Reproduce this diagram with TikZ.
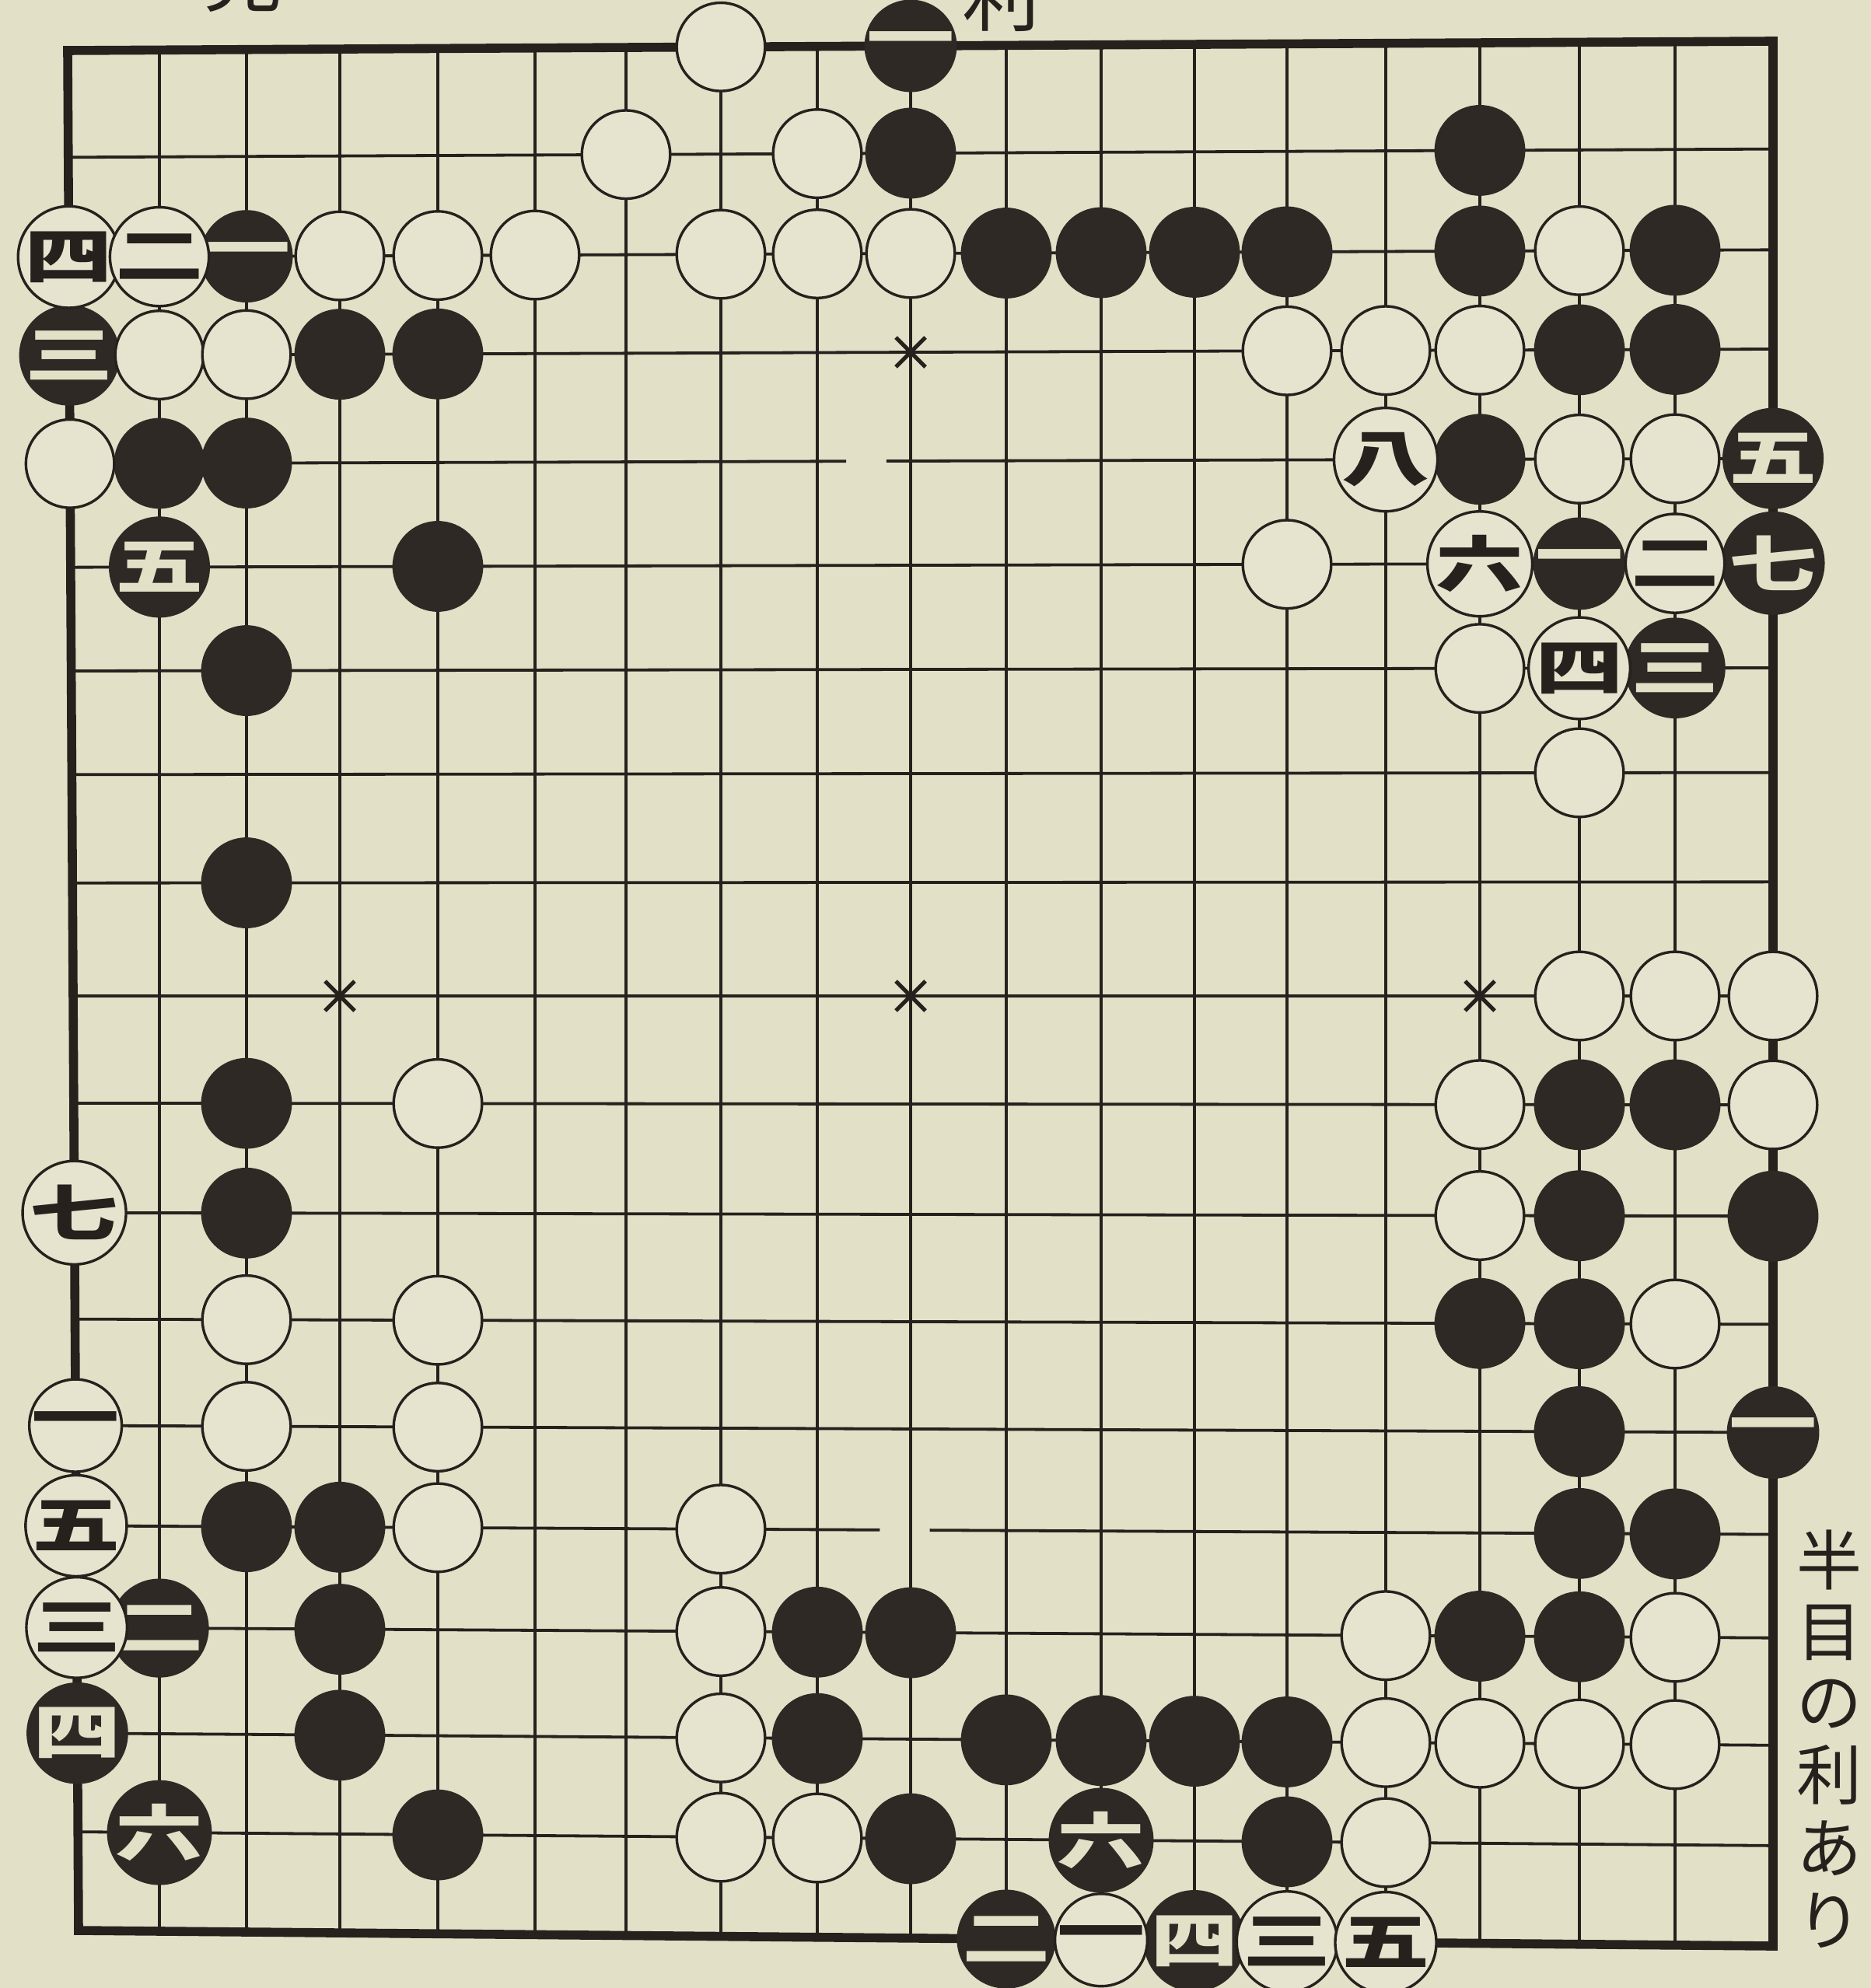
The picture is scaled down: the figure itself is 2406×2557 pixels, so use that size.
\documentclass[tikz,border=0pt]{standalone}
\usepackage{fontspec}
\usepackage{graphicx}
\newfontfamily\cjk{Noto Sans CJK JP}
\usetikzlibrary{calc}
\definecolor{paper}{RGB}{226,224,199}
\definecolor{wfill}{RGB}{230,228,206}
\definecolor{ink}{RGB}{38,33,29}
\definecolor{bink}{RGB}{46,41,36}
\newcommand\stonefont{\cjk\bfseries\fontsize{24pt}{24pt}\selectfont}
\newcommand\stl[1]{\scalebox{1.18}[0.82]{#1}}
\def\colx{{94,205,317,437,563,688,805,927,1051,1171,1294,1416,1536,1655,1782,1903,2031,2154,2280}}
\def\rowy{{59,197,326,453,593,727,861,995,1135,1281,1420,1562,1700,1838,1968,2100,2237,2365,2493}}
\tikzset{
  gridline/.style={draw=ink, line width=0.95pt},
  borderline/.style={draw=ink, line width=2.9pt, line join=miter},
  starline/.style={draw=ink, line width=1.3pt},
  bstone/.style={circle, fill=bink, minimum size=29.2pt, inner sep=0pt, text=paper, font=\stonefont},
  wstone/.style={circle, fill=wfill, draw=ink, line width=0.85pt, minimum size=28.4pt, inner sep=0pt, text=ink, font=\stonefont},
  sidetext/.style={inner sep=0pt, text=ink, font=\cjk\fontsize{21pt}{21pt}\selectfont},
}
\begin{document}
\begin{tikzpicture}[x=0.25pt, y=-0.25pt]
\fill[paper] (0,0) rectangle (2406,2557);
\useasboundingbox (0,0) rectangle (2406,2557);
% grid points
\foreach \i in {0,...,18}{
  \foreach \j in {0,...,18}{
    \pgfmathsetmacro\gx{\colx[\i] + (\i==0)*7*(\j-9)/9}
    \pgfmathsetmacro\gy{\rowy[\j] + ifthenelse(\j<9,6,10)*(\j-9)*(\i-9)/81}
    \coordinate (p-\i-\j) at (\gx,\gy);
  }
}
% horizontal lines
\foreach \j in {1,2,3,5,6,7,8,9,10,11,12,13,15,16,17}
  \draw[gridline] (p-0-\j) -- (p-18-\j);
\draw[gridline] (p-0-4) -- ($(p-8-4)!0.31!(p-9-4)$)
                ($(p-8-4)!0.74!(p-9-4)$) -- (p-18-4);
\draw[gridline] (p-0-14) -- ($(p-8-14)!0.67!(p-9-14)$)
                ($(p-9-14)!0.2!(p-10-14)$) -- (p-18-14);
% vertical lines
\foreach \i in {1,...,17}
  \draw[gridline] (p-\i-0) -- (p-\i-18);
% border
\draw[borderline] (p-0-0) -- (p-18-0) -- (p-18-18) -- (p-0-18) -- cycle;
% star points
\foreach \i/\j in {3/3,9/3,15/3,3/9,9/9,15/9,3/15,9/15,15/15}
  \draw[starline] ([shift={(-19,-19)}]p-\i-\j) -- ([shift={(19,19)}]p-\i-\j)
                  ([shift={(-19,19)}]p-\i-\j) -- ([shift={(19,-19)}]p-\i-\j);
% black stones
\foreach \i/\j in {9/1,15/1,10/2,11/2,12/2,13/2,15/2,17/2,3/3,4/3,16/3,17/3,
  1/4,2/4,15/4,4/5,2/6,2/8,2/10,16/10,17/10,2/11,16/11,18/11,15/12,16/12,
  16/13,2/14,3/14,16/14,17/14,3/15,8/15,9/15,15/15,16/15,
  3/16,8/16,10/16,11/16,12/16,13/16,4/17,9/17,13/17}
  \node[bstone] (b-\i-\j) at (p-\i-\j) {};
\foreach \i/\j/\t in {9/0/一,2/2/一,0/3/三,18/4/五,1/5/五,16/5/一,18/5/七,
  17/6/三,18/13/一,1/15/二,0/16/四,1/17/六,11/17/六,10/18/二,12/18/四}
  \node[bstone] (b-\i-\j) at (p-\i-\j) {\stl{\t}};
% white stones
\foreach \i/\j in {7/0,6/1,8/1,3/2,4/2,5/2,7/2,8/2,9/2,16/2,1/3,2/3,13/3,14/3,15/3,
  0/4,16/4,17/4,13/5,15/6,16/7,16/9,17/9,18/9,4/10,15/10,18/10,15/11,
  2/12,4/12,17/12,2/13,4/13,4/14,7/14,7/15,14/15,17/15,
  7/16,14/16,15/16,16/16,17/16,7/17,8/17,14/17}
  \node[wstone] (w-\i-\j) at (p-\i-\j) {};
\foreach \i/\j/\t in {0/2/四,1/2/二,14/4/八,15/5/六,17/5/二,16/6/四,0/11/七,
  0/13/一,0/14/五,0/15/三,11/18/一,13/18/三,14/18/五}
  \node[wstone] (w-\i-\j) at (p-\i-\j) {\stl{\t}};
% texts
\node[sidetext, font=\cjk\fontsize{25pt}{25pt}\selectfont, anchor=base] (top1) at (312,8) {見};
\node[sidetext, font=\cjk\fontsize{25pt}{25pt}\selectfont, anchor=base] (top2) at (1287,33) {利};
\node[sidetext] (r1) at (2352,2006) {半};
\node[sidetext] (r2) at (2352,2100) {目};
\node[sidetext] (r3) at (2352,2192) {の};
\node[sidetext] (r4) at (2352,2283) {利};
\node[sidetext] (r5) at (2352,2377) {あ};
\node[sidetext] (r6) at (2352,2470) {り};
\end{tikzpicture}
\end{document}
